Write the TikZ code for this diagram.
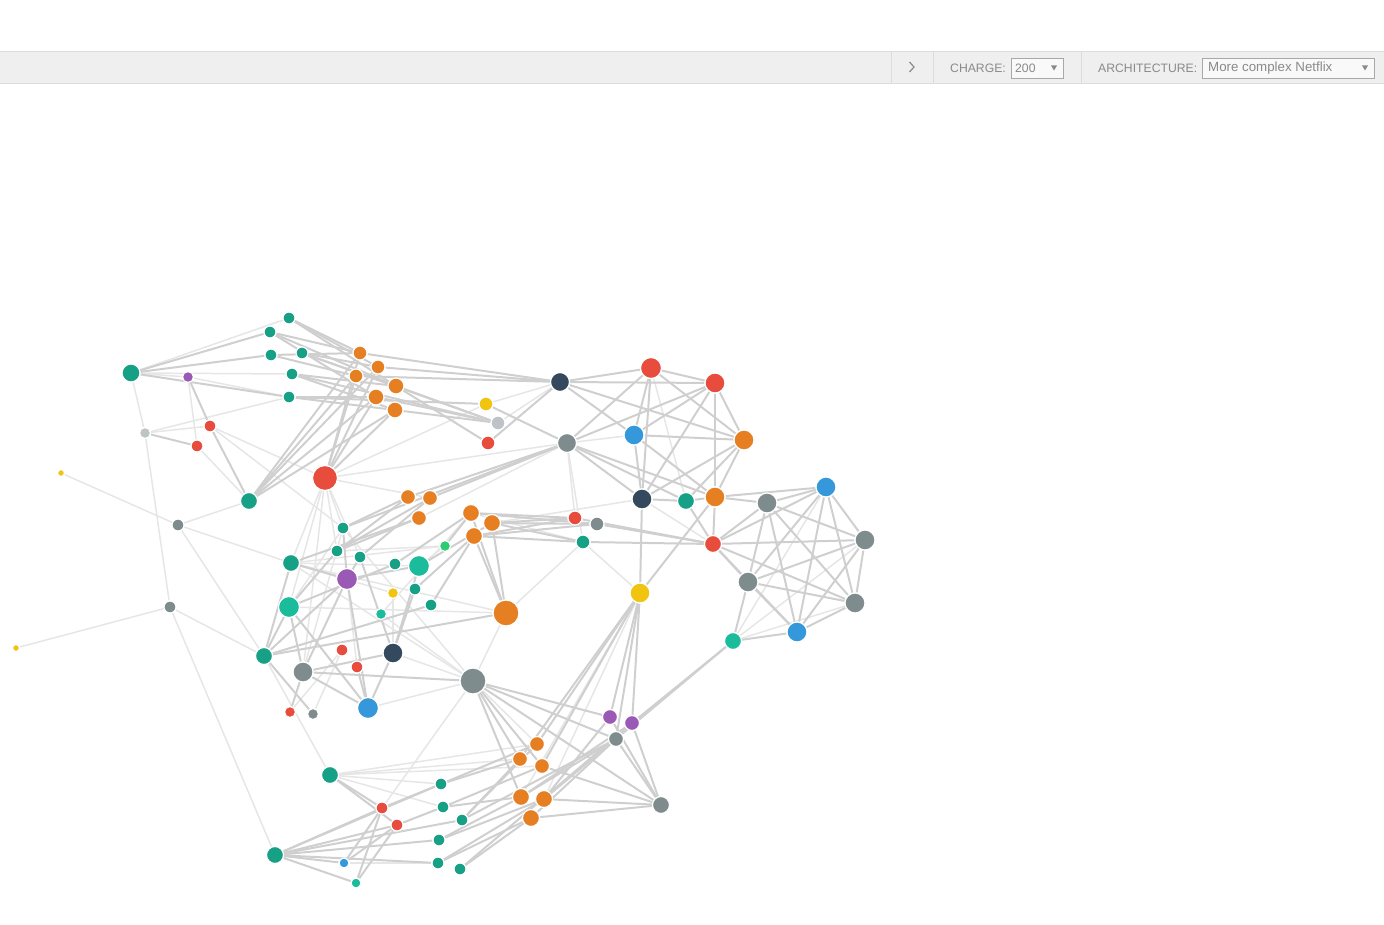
\documentclass[tikz,border=0pt]{standalone}
\usepackage{fontspec}
\setmainfont{Liberation Sans}
\usetikzlibrary{backgrounds}
\definecolor{cteal}{HTML}{16A085}
\definecolor{cturq}{HTML}{1ABC9C}
\definecolor{corange}{HTML}{E67E22}
\definecolor{cred}{HTML}{E74C3C}
\definecolor{cnavy}{HTML}{34495E}
\definecolor{cblue}{HTML}{3498DB}
\definecolor{cgray}{HTML}{7F8C8D}
\definecolor{clgray}{HTML}{BDC3C7}
\definecolor{cyellow}{HTML}{F1C40F}
\definecolor{cpurple}{HTML}{9B59B6}
\definecolor{cgreen}{HTML}{2ECC71}
\definecolor{edark}{HTML}{CFCFCF}
\definecolor{elight}{HTML}{E6E6E6}
\definecolor{tbbg}{HTML}{EFEFEF}
\definecolor{tbline}{HTML}{DCDCDC}
\definecolor{tbtext}{HTML}{8A8A8A}
\definecolor{boxline}{HTML}{A8A8A8}
\tikzset{
  nd/.style 2 args={circle, inner sep=0pt, draw=white, line width=1.2pt, fill=#1, minimum size=#2},
  ed/.style={draw=edark, line width=2pt},
  el/.style={draw=elight, line width=1.5pt},
  lbl/.style={anchor=west, inner sep=0pt, text=tbtext, font=\fontsize{12.2}{14}\selectfont},
}
\begin{document}
\begin{tikzpicture}[x=1pt,y=-1pt]
\useasboundingbox (0,0) rectangle (1384,925);
% toolbar
\fill[tbbg] (0,51.5) rectangle (1384,84);
\draw[tbline, line width=1pt] (0,51.5) -- (1384,51.5);
\draw[tbline, line width=1pt] (0,84) -- (1384,84);
\foreach \xx in {891,933,1081} \draw[tbline, line width=1pt] (\xx,51.5) -- (\xx,84);
\draw[tbtext, line width=1.2pt] (909.5,62) -- (914,67) -- (909.5,72);
\node[lbl] (chargelbl) at (950,68.5) {CHARGE:};
\draw[boxline, fill=white!60!tbbg, line width=0.8pt] (1011,58) rectangle (1063,78);
\node[lbl] (chargeval) at (1015,68.5) {200};
\fill[tbtext] (1051,65.5) -- (1057,65.5) -- (1054,70.5) -- cycle;
\node[lbl] (archlbl) at (1098,68.5) {ARCHITECTURE:};
\draw[boxline, fill=white!60!tbbg, line width=0.8pt] (1202,58) rectangle (1374,78);
\node[lbl, font=\fontsize{13.3}{15}\selectfont] (archval) at (1208,68.5) {More complex Netflix};
\fill[tbtext] (1362,65.5) -- (1368,65.5) -- (1365,70.5) -- cycle;

% nodes
\node[nd={cteal}{12pt}] (T1) at (289,318) {};
\node[nd={cteal}{12pt}] (T2) at (270,332) {};
\node[nd={cteal}{12pt}] (T3) at (271,355) {};
\node[nd={cteal}{12pt}] (T4) at (302,353) {};
\node[nd={cteal}{12pt}] (T5) at (292,374) {};
\node[nd={cteal}{12pt}] (T6) at (289,397) {};
\node[nd={cteal}{18pt}] (A) at (131,373) {};
\node[nd={cpurple}{11pt}] (P1) at (188,377) {};
\node[nd={clgray}{11pt}] (G1) at (145,433) {};
\node[nd={cred}{12pt}] (R1) at (210,426) {};
\node[nd={cred}{12pt}] (R2) at (197,446) {};
\node[nd={cteal}{17pt}] (B) at (249,501) {};
\node[nd={corange}{14pt}] (O1) at (360,353) {};
\node[nd={corange}{14pt}] (O2) at (378,367) {};
\node[nd={corange}{14pt}] (O3) at (356,376) {};
\node[nd={corange}{16pt}] (O4) at (396,386) {};
\node[nd={corange}{16pt}] (O5) at (376,397) {};
\node[nd={corange}{16pt}] (O6) at (395,410) {};
\node[nd={cyellow}{14pt}] (Y1) at (486,404) {};
\node[nd={clgray}{14pt}] (LG2) at (498,423) {};
\node[nd={cred}{14pt}] (R3) at (488,443) {};
\node[nd={cred}{25pt}] (BigR) at (325,478) {};
\node[nd={cnavy}{19pt}] (N1) at (560,382) {};
\node[nd={cred}{21pt}] (R4) at (651,368) {};
\node[nd={cred}{20pt}] (R5) at (715,383) {};
\node[nd={cblue}{20pt}] (BL1) at (634,435) {};
\node[nd={corange}{20pt}] (O7) at (744,440) {};
\node[nd={cgray}{19pt}] (G2) at (567,443) {};
\node[nd={cnavy}{20pt}] (N2) at (642,499) {};
\node[nd={cteal}{17pt}] (T7) at (686,501) {};
\node[nd={corange}{20pt}] (O8) at (715,497) {};
\node[nd={cgray}{20pt}] (G3) at (767,503) {};
\node[nd={cblue}{20pt}] (BL2) at (826,487) {};
\node[nd={cgray}{20pt}] (G4) at (865,540) {};
\node[nd={cred}{17pt}] (R6) at (713,544) {};
\node[nd={cgray}{20pt}] (G5) at (748,582) {};
\node[nd={cgray}{20pt}] (G6) at (855,603) {};
\node[nd={cblue}{20pt}] (BL3) at (797,632) {};
\node[nd={cturq}{17pt}] (TQ1) at (733,641) {};
\node[nd={cyellow}{20pt}] (Y2) at (640,593) {};
\node[nd={cred}{14pt}] (R7) at (575,518) {};
\node[nd={cgray}{14pt}] (G7) at (597,524) {};
\node[nd={cteal}{14pt}] (T8) at (583,542) {};
\node[nd={corange}{15pt}] (O9) at (408,497) {};
\node[nd={corange}{15pt}] (O10) at (430,498) {};
\node[nd={corange}{15pt}] (O11) at (419,518) {};
\node[nd={corange}{17pt}] (O12) at (471,513) {};
\node[nd={corange}{17pt}] (O13) at (492,523) {};
\node[nd={corange}{17pt}] (O14) at (474,536) {};
\node[nd={cgreen}{11pt}] (GR1) at (445,546) {};
\node[nd={cteal}{12pt}] (T9) at (343,528) {};
\node[nd={cteal}{12pt}] (T10) at (337,551) {};
\node[nd={cteal}{12pt}] (T11) at (360,557) {};
\node[nd={cteal}{17pt}] (T12) at (291,563) {};
\node[nd={cpurple}{21pt}] (PU2) at (347,579) {};
\node[nd={cteal}{12pt}] (T13) at (395,564) {};
\node[nd={cturq}{21pt}] (TQ2) at (419,566) {};
\node[nd={cteal}{12pt}] (T14) at (415,589) {};
\node[nd={cyellow}{11pt}] (Y3) at (393,593) {};
\node[nd={cteal}{12pt}] (T15) at (431,605) {};
\node[nd={cturq}{11pt}] (TQ3) at (381,614) {};
\node[nd={cturq}{21pt}] (TQ4) at (289,607) {};
\node[nd={corange}{26pt}] (BO) at (506,613) {};
\node[nd={cteal}{17pt}] (T16) at (264,656) {};
\node[nd={cgray}{20pt}] (G8) at (303,672) {};
\node[nd={cred}{12pt}] (R8) at (342,650) {};
\node[nd={cred}{12pt}] (R9) at (357,667) {};
\node[nd={cnavy}{20pt}] (N3) at (393,653) {};
\node[nd={cblue}{21pt}] (BL4) at (368,708) {};
\node[nd={cred}{11pt}] (R10) at (290,712) {};
\node[nd={cgray}{11pt}] (G9) at (313,714) {};
\node[nd={cgray}{26pt}] (BG) at (473,681) {};
\node[nd={cgray}{12pt}] (G10) at (178,525) {};
\node[nd={cgray}{12pt}] (G11) at (170,607) {};
\node[nd={cyellow}{7pt}] (Y4) at (61,473) {};
\node[nd={cyellow}{7pt}] (Y5) at (16,648) {};
\node[nd={cpurple}{15pt}] (PU3) at (610,717) {};
\node[nd={cpurple}{15pt}] (PU4) at (632,723) {};
\node[nd={cgray}{15pt}] (G12) at (616,739) {};
\node[nd={corange}{15pt}] (O15) at (537,744) {};
\node[nd={corange}{15pt}] (O16) at (520,759) {};
\node[nd={corange}{15pt}] (O17) at (542,766) {};
\node[nd={corange}{17pt}] (O18) at (521,797) {};
\node[nd={corange}{17pt}] (O19) at (544,799) {};
\node[nd={corange}{17pt}] (O20) at (531,818) {};
\node[nd={cgray}{17pt}] (G13) at (661,805) {};
\node[nd={cteal}{17pt}] (T17) at (330,775) {};
\node[nd={cteal}{12pt}] (T18) at (441,784) {};
\node[nd={cteal}{12pt}] (T19) at (443,807) {};
\node[nd={cteal}{12pt}] (T20) at (462,820) {};
\node[nd={cred}{12pt}] (R11) at (382,808) {};
\node[nd={cred}{12pt}] (R12) at (397,825) {};
\node[nd={cteal}{17pt}] (T21) at (275,855) {};
\node[nd={cblue}{10pt}] (BL5) at (344,863) {};
\node[nd={cturq}{10pt}] (TQ5) at (356,883) {};
\node[nd={cteal}{12pt}] (T22) at (439,840) {};
\node[nd={cteal}{12pt}] (T23) at (438,863) {};
\node[nd={cteal}{12pt}] (T24) at (460,869) {};

\begin{scope}[on background layer]
\foreach \a/\b in {A/T1, A/T5, A/P1, A/G1, P1/T6, P1/R2, G1/R1, G1/G11, R2/B, R1/BigR, B/G10,
  BigR/Y1, BigR/G2, BigR/T9, BigR/T10, BigR/T11, BigR/T12, BigR/TQ4, BigR/G8, BigR/O10,
  LG2/N1, Y1/N1, G2/BL1, G2/R7, G2/T8, G2/O11, R4/T7, BL2/TQ1, G4/TQ1, G6/TQ1, R6/N2,
  Y2/T8, T8/BO, T8/O12, O12/TQ3, GR1/T10, GR1/T12, GR1/TQ2, TQ4/BO, T12/TQ2, PU2/R9,
  R8/G9, R8/R10, N3/BG, BL4/BG, T16/T17, T16/G11, G11/Y5, G11/T21, G10/Y4, G10/T12, G10/T16,
  BG/BO, BG/O15, BG/TQ3, BG/T9, BG/R11, BG/T12, O15/T17, O16/T17, T17/T18, T17/T19, T17/O17,
  BL5/T23, G8/T9, N2/O13, Y2/O19, Y2/O18, R1/T9, G1/T6, TQ4/T9, T12/BO, Y3/T12, Y3/N3}
  \draw[el] (\a) -- (\b);
\foreach \a/\b in {A/T2, A/T3, A/T6, T1/O1, T1/O4, T1/O2, T2/O1, T2/O5, T2/O4, T3/O3, T3/O1,
  T4/O2, T4/O4, T4/LG2, T5/O4, T5/O6, T5/LG2, T6/O5, T6/O6, T6/Y1, P1/R1, G1/R2, R1/B,
  B/O1, B/O2, B/O3, B/O5, B/O6, BigR/O1, BigR/O3, BigR/O5, BigR/O2, BigR/O6,
  O1/N1, O2/N1, O3/N1, O4/R3, O4/LG2, O5/LG2, O6/LG2, Y1/G2, R3/N1, N1/R4, N1/R5, N1/BL1, N1/O7,
  G2/R5, G2/R4, G2/O8, G2/N2, G2/T7, R4/R5, R4/BL1, R4/N2, R4/O7, R5/BL1, R5/O7, R5/O8, R5/N2,
  BL1/O7, BL1/N2, BL1/O8, O7/N2, O7/O8, O7/T7, N2/T7, N2/Y2, T7/O8, T7/R6, O8/G3, O8/BL2, O8/R6, O8/Y2,
  G3/BL2, G3/G4, G3/G5, G3/G6, G3/BL3, G3/R6, BL2/G4, BL2/G5, BL2/G6, BL2/BL3, BL2/R6,
  G4/G6, G4/R6, G4/G5, G4/BL3, G5/G6, G5/BL3, G5/R6, G6/BL3, G6/R6, BL3/TQ1, BL3/R6, G5/TQ1,
  R6/T8, R6/G7, R6/R7, TQ1/PU4, TQ1/G12, Y2/PU3, Y2/PU4, Y2/G12, Y2/O15, Y2/O16, Y2/O17,
  R7/O12, R7/O13, R7/O14, G7/O12, G7/O13, G7/O14, T8/O14, T8/O13, O12/BO, O13/BO, O14/BO,
  O12/T13, O14/T14, O14/T15, O13/TQ2, O12/GR1, G2/O9, G2/O10, G2/T9, O9/T9, O9/T10, O10/T11,
  O11/T12, O10/T10, O11/T10, T9/PU2, T11/PU2, T11/N3, T12/PU2, PU2/TQ2, PU2/T16, PU2/BL4, PU2/G8,
  TQ2/N3, T14/N3, TQ4/T10, TQ4/T13, TQ4/G8, TQ4/BL4, TQ4/T16, T16/T15, T16/BO, T16/T12,
  G8/BG, G8/BL4, G8/N3, G8/R10, T16/G9, N3/BL4, BL4/R9, BG/PU3, BG/G12, BG/O16, BG/O17, BG/O18, BG/G13,
  PU3/G13, PU4/G13, G12/G13, G12/O18, G12/O19, G12/O20, G12/T20, PU3/O19, PU4/O18, PU4/T24,
  O16/T18, O17/T19, O15/T18, O18/T19, O18/T22, O19/T22, O19/T23, O20/T23, O20/T24, O20/G13,
  O19/G13, O17/G13, T17/R11, T17/R12, T21/R11, T21/R12, T21/T18, T21/T22, T21/T23, T21/BL5,
  T21/TQ5, R11/T18, R11/BL5, R11/TQ5, R12/BL5, R12/TQ5, R12/T19, T21/T20, O16/T20, O15/T20}
  \draw[ed] (\a) -- (\b);
\end{scope}
\end{tikzpicture}
\end{document}
